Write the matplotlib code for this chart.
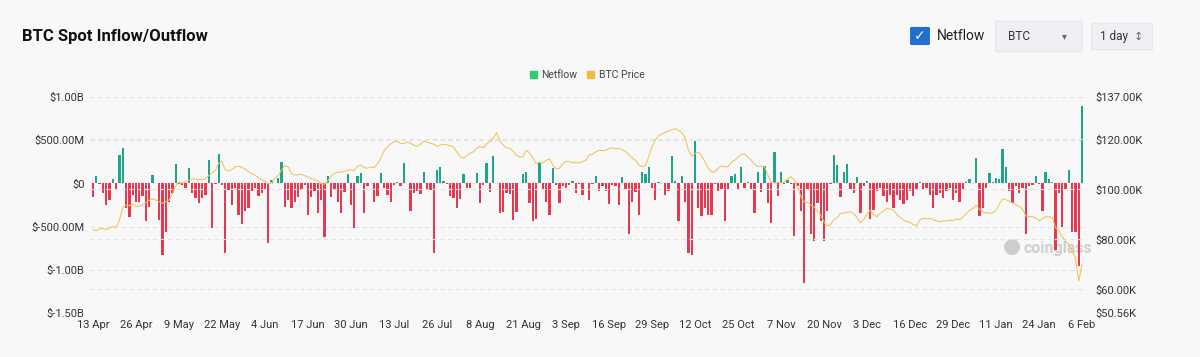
import numpy as np
import matplotlib.pyplot as plt
from matplotlib.patches import FancyBboxPatch, Rectangle

plt.rcParams['font.family'] = ['Roboto', 'DejaVu Sans']

tick_labels = ['13 Apr', '26 Apr', '9 May', '22 May', '4 Jun', '17 Jun', '30 Jun', '13 Jul',
               '26 Jul', '8 Aug', '21 Aug', '3 Sep', '16 Sep', '29 Sep', '12 Oct', '25 Oct',
               '7 Nov', '20 Nov', '3 Dec', '16 Dec', '29 Dec', '11 Jan', '24 Jan', '6 Feb']

# daily netflow, billions USD (13 Apr -> 6 Feb)
netflow_apr_jun = [
    -0.16, 0.08, -0.01, -0.11, -0.25, -0.19, 0.05, -0.07, 0.33, 0.41,
    -0.28, -0.39, -0.13, -0.21, -0.21, -0.15, -0.44, -0.27, 0.10, 0.01,
    -0.42, -0.83, -0.56, -0.21, -0.11, 0.23, -0.01, -0.02, -0.05, 0.18,
    -0.11, -0.17, -0.23, -0.17, -0.13, 0.27, -0.52, -0.01, 0.34, -0.02,
    -0.81, -0.08, -0.25, -0.05, -0.36, -0.47, -0.32, -0.29, -0.09, -0.05,
    -0.15, -0.11, -0.08, -0.69, 0.04, 0.01, 0.06, 0.25, -0.27, -0.19]
netflow_jun_sep = [
    -0.28, -0.22, -0.16, -0.08, -0.02, -0.36, -0.16, -0.09, -0.34, -0.19,
    -0.62, 0.08, -0.16, -0.08, -0.21, -0.34, -0.10, 0.11, -0.25, -0.52,
    0.08, 0.12, -0.34, -0.03, 0.01, -0.21, -0.15, 0.12, -0.05, -0.13,
    -0.21, -0.02, 0.02, -0.03, 0.24, 0.01, -0.32, -0.11, -0.09, -0.12,
    0.13, -0.08, -0.08, -0.81, 0.16, 0.19, 0.03, -0.01, -0.15, -0.17,
    -0.29, -0.18, 0.11, -0.05, -0.05, 0.01, 0.12, -0.23, -0.02, 0.24,
    -0.10, 0.32, 0.01, -0.34, -0.33, -0.11, -0.12, -0.42, -0.33, 0.01,
    0.11, 0.13, -0.23, -0.44, -0.41, 0.24, -0.07, -0.22, -0.36, 0.18,
    -0.02, -0.23, -0.03, -0.05, -0.02, 0.03, -0.11, -0.01, -0.14, 0.01,
    -0.19]
netflow_sep_dec = [
    -0.01, 0.09, -0.09, -0.03, -0.09, -0.24, -0.02, -0.03, -0.25, 0.07,
    -0.07, -0.59, -0.21, -0.10, -0.36, 0.13, 0.11, 0.19, -0.05, -0.19,
    0.02, 0.01, -0.13, -0.09, 0.32, 0.03, -0.44, 0.09, -0.21, -0.80,
    -0.83, 0.49, -0.29, -0.38, -0.29, -0.36, -0.36, -0.01, -0.09, -0.07,
    -0.44, -0.07, 0.09, 0.11, -0.07, 0.19, -0.05, 0.02, -0.07, -0.34,
    0.13, -0.10, 0.20, -0.23, -0.46, 0.36, -0.15, 0.13, -0.01, 0.04,
    -0.01, -0.61, -0.03, -0.32, -1.15, -0.07, -0.58, -0.67, -0.23, -0.44,
    -0.67, -0.32, -0.01, 0.33, 0.21, -0.16, 0.13, 0.22, -0.07, -0.11,
    0.07, -0.34, -0.03, 0.03, -0.41, -0.31, -0.09]
netflow_dec_feb = [
    -0.05, -0.15, -0.21, -0.13, -0.29, -0.13, -0.19, -0.24, -0.19, -0.09,
    -0.15, -0.06, 0.02, -0.07, -0.05, -0.13, -0.28, -0.13, -0.11, -0.17,
    -0.09, -0.05, -0.19, -0.11, -0.21, -0.06, 0.02, 0.05, 0.01, 0.29,
    -0.38, -0.28, -0.05, 0.12, 0.02, 0.06, 0.05, 0.40, 0.19, -0.09,
    -0.23, -0.03, -0.11, -0.05, -0.59, -0.03, -0.02, 0.08, -0.01, -0.32,
    0.13, 0.05, 0.02, -0.77, -0.11, -0.51, -0.07, 0.16, -0.56, -0.56,
    -0.96, 0.90]

# daily BTC price, thousands USD
price_apr_jun = [
    83.8, 83.5, 84.2, 84.5, 83.8, 84.7, 85.1, 84.7, 87.8, 92.7,
    93.8, 93.5, 94.1, 93.1, 93.5, 93.8, 94.7, 95.7, 96.2, 95.8,
    95.1, 94.5, 95.1, 95.8, 98.1, 101.5, 103.0, 102.6, 103.1, 103.7,
    104.3, 104.2, 103.8, 103.9, 104.3, 105.5, 106.6, 107.7, 110.5, 111.1,
    107.8, 107.4, 108.1, 109.0, 109.3, 108.9, 108.1, 107.1, 106.3, 105.7,
    104.7, 103.9, 103.3, 102.2, 102.9, 104.5, 105.5, 107.8, 109.5, 109.1]
price_jun_sep = [
    106.3, 105.8, 105.8, 106.1, 105.5, 105.0, 104.3, 103.8, 103.5, 102.2,
    102.1, 103.5, 105.4, 106.5, 106.9, 106.9, 107.3, 107.7, 107.8, 107.5,
    109.3, 109.7, 108.7, 108.5, 109.0, 108.7, 110.2, 112.5, 115.5, 117.0,
    118.2, 119.1, 119.3, 118.5, 118.3, 119.0, 118.5, 117.7, 117.3, 118.1,
    119.3, 118.9, 118.5, 118.1, 117.3, 117.8, 118.1, 117.8, 117.5, 117.0,
    115.0, 113.1, 112.6, 113.5, 114.5, 115.1, 116.5, 117.1, 116.7, 118.3,
    119.1, 120.5, 122.7, 119.4, 117.8, 116.7, 116.5, 115.3, 113.7, 112.9,
    113.1, 115.7, 114.6, 112.6, 110.3, 111.0, 110.6, 111.7, 112.1, 109.8,
    108.3, 108.5, 110.2, 111.3, 111.1, 110.6, 111.0, 110.6, 111.1, 111.7,
    113.8]
price_sep_dec = [
    114.1, 115.0, 115.7, 115.5, 115.7, 116.3, 116.7, 116.3, 116.5, 115.9,
    115.3, 113.8, 112.6, 111.7, 109.8, 109.1, 109.5, 113.1, 117.1, 119.8,
    121.5, 122.2, 122.9, 123.3, 123.9, 124.3, 123.7, 122.7, 120.7, 115.8,
    113.3, 114.5, 114.9, 113.5, 111.1, 108.6, 106.9, 107.1, 108.5, 109.4,
    109.1, 109.1, 110.9, 111.7, 112.9, 114.1, 114.2, 113.0, 111.7, 110.1,
    109.1, 109.4, 109.1, 105.8, 103.0, 102.6, 103.0, 102.6, 103.1, 104.2,
    105.1, 103.8, 101.1, 97.1, 95.0, 94.7, 93.8, 92.9, 91.5, 89.8,
    86.9, 85.3, 86.1, 87.9, 88.7, 90.5, 90.5, 90.9, 91.0, 90.3,
    88.7, 86.7, 87.9, 90.2, 91.7, 89.8, 89.1]
price_dec_feb = [
    90.5, 91.4, 92.5, 92.2, 91.8, 89.9, 88.9, 87.8, 87.1, 86.9,
    85.9, 85.5, 87.8, 88.5, 88.2, 88.5, 87.8, 87.4, 87.1, 87.4,
    87.4, 87.8, 87.4, 88.3, 87.9, 89.0, 90.3, 91.7, 92.3, 93.7,
    92.1, 91.1, 90.6, 90.5, 90.7, 91.7, 94.1, 96.3, 95.9, 95.3,
    94.6, 93.9, 93.3, 92.1, 89.4, 89.1, 89.1, 88.6, 87.5, 88.3,
    89.0, 89.1, 88.7, 84.7, 83.4, 81.1, 79.4, 78.1, 75.4, 72.7,
    63.4, 69.8]

netflow = np.array(netflow_apr_jun + netflow_jun_sep + netflow_sep_dec + netflow_dec_feb)
price = np.array(price_apr_jun + price_jun_sep + price_sep_dec + price_dec_feb)
days = np.arange(len(netflow))

W, H = 1200, 357
fig = plt.figure(figsize=(12, 3.57), dpi=100, facecolor='#f8f8f8')


def fx(px):
    return px / W


def fy(py):
    return 1 - py / H


ax = fig.add_axes([fx(90), fy(313), fx(997), (313 - 97) / H])
ax.set_facecolor('#f8f8f8')
ax2 = ax.twinx()

colors = np.where(netflow >= 0, '#1fa58a', '#e8384f')
ax.bar(days, netflow, width=0.7, color=colors, zorder=3)
ax.set_xlim(-0.9, 300.5)
ax.set_ylim(-1.5, 1.0)
ax.set_yticks([-1.5, -1.0, -0.5, 0, 0.5, 1.0])
ax.set_yticklabels(['$-1.50B', '$-1.00B', '$-500.00M', '$0', '$500.00M', '$1.00B'])
ax.set_xticks(np.arange(0, 300, 13))
ax.set_xticklabels(tick_labels)
ax.tick_params(axis='both', length=0, labelsize=8, colors='#333333')
ax.tick_params(axis='x', pad=5)
ax.tick_params(axis='y', pad=4)
ax.grid(axis='y', color='#e4e4e4', linestyle=(0, (4, 3)), linewidth=0.8, zorder=0)

ax2.plot(days, price, color='#f0c25a', linewidth=0.75, zorder=4)
ax2.set_ylim(50.56, 137)
ax2.set_yticks([50.56, 60, 80, 100, 120, 137])
ax2.set_yticklabels(['$50.56K', '$60.00K', '$80.00K', '$100.00K', '$120.00K', '$137.00K'])
ax2.tick_params(axis='y', length=0, labelsize=8, colors='#333333', pad=6)
ax2.grid(axis='y', color='#e4e4e4', linestyle=(0, (4, 3)), linewidth=0.8)
for a in (ax, ax2):
    for s in a.spines.values():
        s.set_visible(False)
ax.set_zorder(2)
ax2.set_zorder(3)
ax2.patch.set_visible(False)

# watermark
ax.text(0.936, 0.30, 'coinglass', transform=ax.transAxes, fontsize=11.5, fontweight='bold',
        color='#cfcfcf', ha='left', va='center', zorder=1)
ax.text(0.925, 0.31, '\u25CF', transform=ax.transAxes, fontsize=15,
        color='#cdcdcd', ha='center', va='center', zorder=1)

# title
fig.text(fx(22), fy(37), 'BTC Spot Inflow/Outflow', fontsize=12, fontweight='bold',
         color='#111111', ha='left', va='center')

# legend
fig.patches.append(Rectangle((fx(530), fy(78)), fx(7), 7 / H, color='#2ecc71',
                             transform=fig.transFigure, figure=fig))
fig.text(fx(541), fy(74.5), 'Netflow', fontsize=7.5, color='#444444', va='center')
fig.patches.append(Rectangle((fx(587), fy(78)), fx(7), 7 / H, color='#f5b942',
                             transform=fig.transFigure, figure=fig))
fig.text(fx(599), fy(74.5), 'BTC Price', fontsize=7.5, color='#444444', va='center')

# header controls
fig.patches.append(FancyBboxPatch((fx(912), fy(44)), fx(16), 16 / H,
                                  boxstyle='round,pad=0.001', facecolor='#1f6fd1',
                                  edgecolor='#1f6fd1', transform=fig.transFigure, figure=fig))
fig.text(fx(920), fy(36.5), '\u2713', fontsize=10, color='white', ha='center', va='center',
         family=['DejaVu Sans'])
fig.text(fx(937), fy(36.5), 'Netflow', fontsize=10, color='#222222', va='center')
fig.patches.append(FancyBboxPatch((fx(998), fy(51)), fx(82), 29 / H,
                                  boxstyle='round,pad=0.002', facecolor='#eef0f3',
                                  edgecolor='#e3e6ea', linewidth=0.8,
                                  transform=fig.transFigure, figure=fig))
fig.text(fx(1008), fy(36.5), 'BTC', fontsize=8.5, color='#333333', va='center')
fig.text(fx(1064), fy(36.5), '\u25BE', fontsize=7, color='#666666', ha='center', va='center',
         family=['DejaVu Sans'])
fig.patches.append(FancyBboxPatch((fx(1094), fy(49)), fx(56), 25 / H,
                                  boxstyle='round,pad=0.002', facecolor='#eef0f3',
                                  edgecolor='#e3e6ea', linewidth=0.8,
                                  transform=fig.transFigure, figure=fig))
fig.text(fx(1100), fy(36.5), '1 day', fontsize=8.5, color='#333333', va='center')
fig.text(fx(1138), fy(36.5), '\u2195', fontsize=8, color='#666666', ha='center', va='center',
         family=['DejaVu Sans'])

fig.savefig('out.png', dpi=100, facecolor=fig.get_facecolor())
